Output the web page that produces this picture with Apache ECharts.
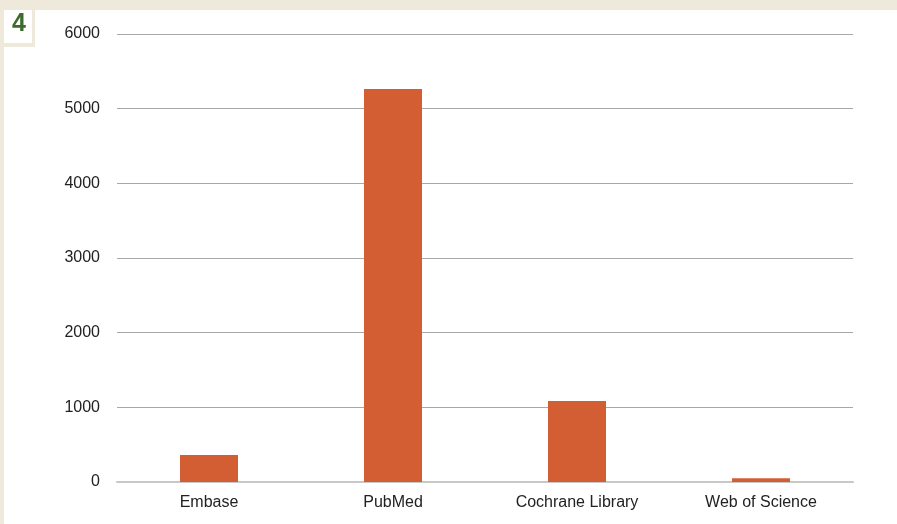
<!DOCTYPE html>
<html>
<head>
<meta charset="utf-8">
<script src="https://cdn.jsdelivr.net/npm/echarts@6/dist/echarts.min.js"></script>
<style>
html,body{margin:0;padding:0;background:#fff;}
#c{width:897px;height:524px;}
</style>
</head>
<body>
<div id="c"></div>
<script>
const categories = ['Embase', 'PubMed', 'Cochrane Library', 'Web of Science'];
const values = [362, 5263, 1085, 50];
const yTicks = [0, 1000, 2000, 3000, 4000, 5000, 6000];

const chart = echarts.init(document.getElementById('c'), null, {renderer: 'canvas'});
chart.setOption({
  animation: false,
  backgroundColor: '#ffffff',
  graphic: [
    {type: 'rect', shape: {x: 0, y: 0, width: 897, height: 10}, style: {fill: '#efe9dc'}, silent: true},
    {type: 'rect', shape: {x: 0, y: 0, width: 4, height: 524}, style: {fill: '#efe9dc'}, silent: true},
    {type: 'rect', shape: {x: 0, y: 0, width: 35, height: 47}, style: {fill: '#efe9dc'}, silent: true},
    {type: 'rect', shape: {x: 4, y: 10, width: 28, height: 33}, style: {fill: '#ffffff'}, silent: true},
    {type: 'text', left: 12, top: 12, style: {text: '4', fill: '#3d6b2c', font: 'bold 25px "Liberation Sans", Arial, sans-serif'}, silent: true}
  ],
  grid: {left: 117, right: 44, top: 34, bottom: 42, containLabel: false},
  xAxis: {
    type: 'category',
    data: categories,
    axisTick: {show: false},
    axisLine: {show: true, lineStyle: {color: '#c8c8c8', width: 2}},
    axisLabel: {color: '#222', fontSize: 16, margin: 13, fontFamily: '"Liberation Sans", Arial, sans-serif'}
  },
  yAxis: {
    type: 'value',
    min: yTicks[0],
    max: yTicks[yTicks.length - 1],
    interval: 1000,
    axisLine: {show: false},
    axisTick: {show: false},
    splitLine: {lineStyle: {color: '#a8a8a8', width: 1}},
    axisLabel: {color: '#222', fontSize: 16, margin: 17, fontFamily: '"Liberation Sans", Arial, sans-serif',
      formatter: function (v) { return String(v); }}
  },
  series: [{
    type: 'bar',
    data: values,
    barWidth: 58,
    itemStyle: {color: '#d45e34'}
  }]
});
</script>
</body>
</html>
